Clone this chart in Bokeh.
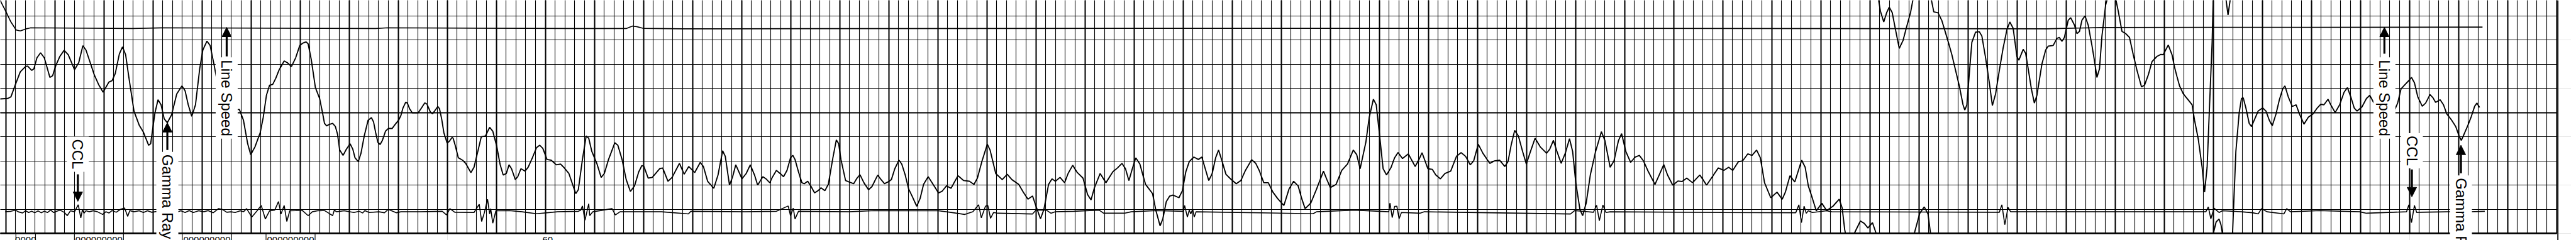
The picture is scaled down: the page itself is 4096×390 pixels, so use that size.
import numpy as np
from bokeh.plotting import figure
from bokeh.models import (ColumnDataSource, Grid, SingleIntervalTicker, FixedTicker,
                          Arrow, NormalHead, Range1d, Span)
from bokeh.core.properties import value
from bokeh.embed import file_html
from bokeh.resources import INLINE

# ---------------- data (depth in ft, track values: 10 units per chart division) ----------------
gr_main_a = [
    (4.40, 55.6), (5.21, 55.8), (5.53, 56.5), (5.99, 61.6), (6.48, 66.8), (7.02, 69.0), (7.23, 69.2),
    (7.65, 67.4), (7.87, 68.1), (8.18, 72.6), (8.55, 74.7), (8.93, 72.6), (9.50, 64.5), (9.78, 65.2),
    (10.10, 69.4), (10.52, 73.2), (10.95, 75.7), (11.37, 73.9), (12.01, 67.7), (12.44, 70.6),
    (12.86, 77.6), (13.18, 75.8), (13.61, 70.6), (14.03, 65.5), (14.46, 61.6), (14.92, 58.4),
    (15.52, 62.6), (15.84, 63.2), (16.16, 66.1), (16.58, 74.2), (16.90, 77.1), (17.22, 73.9),
    (17.54, 64.8), (18.07, 50.6), (18.60, 44.8), (19.03, 41.9), (19.56, 36.5), (19.77, 37.1),
    (20.20, 49.7), (20.52, 55.3), (20.83, 53.2), (21.15, 47.4), (21.47, 45.8), (21.90, 49.0),
    (22.43, 57.7), (22.96, 61.0), (23.28, 59.0), (23.60, 53.2), (23.96, 48.4), (24.34, 53.2),
    (24.77, 68.1), (25.09, 75.8), (25.51, 79.5), (25.83, 77.7), (26.25, 69.4), (26.68, 60.0),
    (28.38, 51.0), (28.81, 51.3), (29.23, 46.8), (29.66, 37.1), (29.97, 32.6), (30.40, 35.8),
    (30.93, 41.6), (31.25, 48.1), (31.57, 57.1), (31.89, 61.3), (32.21, 61.6), (32.53, 64.2),
    (32.84, 67.4), (33.38, 71.3), (33.70, 70.6), (34.12, 69.0), (34.55, 72.6), (34.97, 77.7),
    (35.29, 78.7), (35.61, 79.2), (35.82, 78.4), (36.14, 71.9), (36.56, 60.3), (36.99, 55.8),
    (37.27, 50.3), (37.49, 45.5), (37.71, 44.5), (37.93, 45.0), (38.32, 45.5), (38.60, 44.2),
    (38.82, 41.0), (39.04, 34.5), (39.38, 32.3), (39.71, 34.8), (40.10, 37.1), (40.38, 34.8),
    (40.60, 31.3), (40.93, 29.7), (41.21, 33.2), (41.54, 40.3), (41.93, 46.8), (42.27, 47.9),
    (42.49, 46.1), (42.71, 41.6), (42.93, 37.7), (43.16, 36.8), (43.38, 38.4), (43.71, 42.3),
    (43.99, 43.4), (44.38, 43.4), (44.71, 45.2), (45.04, 46.8), (45.27, 48.7), (45.49, 51.9),
    (45.77, 54.3), (45.93, 53.9), (46.16, 51.6), (46.43, 49.9), (47.04, 49.9), (47.38, 51.9),
    (47.71, 54.0), (47.93, 53.5), (48.27, 50.3), (48.49, 49.5), (48.71, 50.6), (49.04, 52.5),
    (49.21, 51.6), (49.43, 47.4), (49.66, 41.6), (49.99, 37.4), (50.21, 38.1), (50.49, 39.7),
    (50.60, 39.4), (50.81, 36.5), (51.13, 31.3), (51.56, 30.3), (51.88, 29.0), (52.41, 25.2),
    (52.73, 27.4), (53.15, 34.5), (53.47, 40.0), (53.90, 40.3), (54.32, 43.9), (54.64, 42.3),
    (55.06, 35.8), (55.38, 28.7), (55.70, 24.2), (56.02, 24.8), (56.30, 28.4), (56.55, 26.8),
    (56.94, 22.3), (57.19, 23.5), (57.51, 26.8), (57.93, 25.8), (58.25, 27.4), (58.68, 31.3),
    (59.10, 35.5), (59.42, 36.5), (59.74, 35.2), (60.17, 30.6), (60.59, 30.3), (61.12, 28.4),
    (61.55, 28.7), (61.87, 27.4), (62.40, 24.8), (62.72, 21.0), (63.10, 16.5), (63.36, 18.1),
    (63.78, 30.6), (64.16, 40.3), (64.42, 39.4), (64.74, 33.9), (65.27, 28.7), (65.69, 23.2),
    (66.01, 24.8), (66.44, 30.6), (67.08, 37.5), (67.39, 36.5), (67.82, 30.6), (68.24, 22.3),
    (68.67, 17.4), (69.09, 19.7), (69.52, 25.5), (69.84, 28.1), (70.05, 27.7), (70.48, 22.9),
    (70.90, 23.2), (71.65, 26.8), (71.96, 27.1), (72.50, 21.6), (72.92, 23.2), (73.67, 29.0),
    (74.15, 24.5), (74.62, 27.7), (75.22, 25.2), (75.79, 29.4), (76.11, 27.7), (76.54, 21.6),
    (77.17, 18.7), (77.60, 24.2), (78.07, 34.2), (78.34, 31.9), (78.77, 20.0), (79.09, 23.5),
    (79.41, 28.4), (80.04, 22.6), (80.47, 24.8), (80.89, 28.4), (81.32, 24.2), (81.64, 20.0),
    (82.17, 23.5), (82.49, 22.6), (82.87, 21.0), (83.13, 23.2), (83.55, 26.1), (83.93, 24.8),
    (84.28, 23.5), (84.63, 26.1), (84.99, 31.3), (85.22, 32.3), (85.45, 30.6), (85.80, 25.5),
    (86.15, 21.0), (86.39, 20.6), (86.74, 21.6), (87.09, 19.4), (87.44, 16.8), (87.79, 17.7),
    (88.10, 18.9), (88.49, 17.7), (88.84, 20.3), (89.31, 31.3), (89.66, 38.7), (89.90, 37.1),
    (90.13, 30.6), (90.60, 21.9), (90.95, 21.3), (91.42, 20.6), (91.77, 22.9), (92.07, 24.3),
    (92.47, 21.0), (92.94, 18.1), (93.29, 19.4), (93.87, 24.1), (94.22, 22.3), (94.57, 20.6),
    (94.92, 21.3), (95.27, 22.3), (95.62, 26.8), (96.05, 30.3), (96.33, 28.7), (96.68, 24.2),
    (97.03, 18.4), (97.38, 15.5), (97.85, 11.3), (98.20, 14.5), (98.55, 20.3), (99.02, 23.5),
    (99.37, 21.3), (100.07, 16.8), (100.42, 17.4), (100.89, 19.7), (101.35, 18.7), (101.70, 21.3),
    (102.06, 23.9), (102.64, 21.9), (103.22, 21.6), (103.69, 20.3), (104.04, 22.9), (104.51, 30.0),
    (105.05, 36.9), (105.33, 34.5), (105.91, 24.8), (106.57, 22.3), (107.08, 24.5), (107.55, 22.3),
    (108.25, 20.3), (108.72, 17.1), (109.19, 14.2), (109.66, 15.5), (110.01, 11.3), (110.47, 6.1),
    (110.82, 10.0), (111.29, 20.3), (111.64, 22.6), (111.99, 21.6), (112.46, 23.2), (112.93, 21.0),
    (113.28, 24.8), (113.75, 28.2), (114.22, 25.2), (114.80, 22.9), (115.27, 16.1), (115.62, 13.9),
    (115.97, 19.0), (116.55, 24.8), (117.14, 21.0), (117.84, 25.5), (118.31, 27.1), (118.77, 29.0),
    (119.13, 26.8), (119.48, 21.9), (119.83, 26.8), (120.18, 31.3), (120.60, 28.7), (120.95, 23.5),
    (121.18, 20.3), (121.54, 18.4), (121.89, 16.5), (122.24, 9.4), (122.66, 3.2), (122.94, 6.1),
    (123.29, 13.2), (123.64, 15.5), (123.99, 15.9), (124.58, 14.8), (124.93, 17.7), (125.28, 25.5),
    (125.63, 29.7), (126.10, 31.6), (126.56, 30.6), (126.91, 31.6), (127.26, 26.8), (127.62, 21.9),
    (127.97, 24.8), (128.32, 31.3), (128.62, 34.5), (128.97, 30.0), (129.37, 24.5), (129.84, 22.6),
    (130.42, 20.6), (130.89, 21.9), (131.36, 26.1), (131.99, 30.5), (132.41, 29.0), (132.76, 26.1),
    (133.23, 21.0), (133.69, 21.0), (134.16, 17.1), (134.63, 14.5), (135.28, 11.6), (135.80, 18.4),
    (136.27, 21.6), (136.73, 19.7), (137.09, 14.5), (137.44, 10.3), (138.02, 12.6), (138.61, 18.4),
    (139.31, 25.8), (139.66, 22.3), (140.01, 19.0), (140.59, 20.3), (141.18, 26.1), (141.76, 28.7),
    (142.35, 34.5), (142.70, 32.6), (143.05, 26.8), (143.63, 37.7), (143.98, 48.1), (144.40, 55.5),
    (144.69, 53.2), (145.04, 40.3), (145.39, 26.8), (145.74, 24.2), (146.21, 27.4), (146.56, 31.3),
    (146.91, 33.5), (147.37, 31.0), (147.96, 32.9), (148.66, 27.7), (149.01, 30.3), (149.36, 33.4),
    (149.95, 26.8), (150.41, 26.5), (150.76, 24.2), (151.23, 22.6), (151.70, 24.8), (152.28, 25.8),
    (152.87, 31.9), (153.34, 33.4), (153.80, 31.9), (154.27, 28.4), (154.62, 30.0), (155.09, 36.9),
    (155.56, 33.2), (156.26, 29.0), (156.73, 30.0), (157.27, 30.3), (157.80, 27.7), (158.12, 29.7),
    (158.44, 36.5), (158.80, 42.6), (159.18, 40.3), (159.61, 33.9), (159.99, 28.7), (160.35, 33.2),
    (160.88, 39.4), (161.41, 35.8), (162.05, 33.2), (162.37, 34.8), (162.75, 38.5), (163.11, 33.9),
    (163.54, 29.0), (163.96, 33.2), (164.39, 39.2), (164.71, 33.9), (165.03, 21.0), (165.45, 10.0),
    (165.73, 7.4), (166.09, 12.6), (166.51, 24.2), (167.05, 33.9), (167.64, 42.1), (168.00, 38.4),
    (168.53, 27.4), (168.92, 30.0), (169.38, 38.4), (169.70, 41.3), (170.13, 33.9), (170.62, 29.4),
    (171.08, 31.6), (171.51, 32.3), (171.93, 30.0), (172.36, 26.1), (173.10, 20.3), (173.53, 24.2),
    (174.00, 28.5), (174.38, 24.2), (174.91, 20.0), (175.44, 21.7), (175.87, 21.5), (176.34, 22.9),
    (176.93, 21.0), (177.36, 22.9), (177.67, 24.2), (177.99, 22.3), (178.36, 20.0), (178.95, 23.5),
    (179.55, 27.1), (180.12, 26.1), (180.61, 27.4), (181.03, 26.1), (181.61, 29.7), (182.03, 30.0),
    (182.56, 32.9), (182.99, 32.3), (183.46, 34.5), (183.84, 31.3), (184.27, 21.0), (184.90, 14.8),
    (185.54, 17.1), (186.07, 14.2), (186.39, 17.1), (186.86, 23.9), (187.35, 21.3), (188.05, 30.3),
    (188.41, 27.4), (188.73, 19.7), (189.15, 14.5), (189.54, 9.4), (190.11, 12.5), (190.60, 9.5),
    (191.24, 11.3), (191.88, 14.2), (192.18, 10.6), (192.44, 1.6), (192.52, 0.0),
]
gr_wrap_b = [(193.41, 0.0), (194.04, 5.2), (194.43, 4.2), (194.81, 2.3), (195.27, 4.5), (195.65, 0.0)]
gr_wrap_c = [(195.75, 100.0), (196.08, 91.9), (196.42, 87.4), (196.72, 91.3), (196.98, 93.5),
             (197.28, 91.3), (197.62, 84.2), (198.00, 76.5), (198.38, 79.7), (198.76, 85.5),
             (199.15, 91.3), (199.55, 100.0)]
gr_wrap_d = [(199.53, 0.0), (200.09, 8.4), (200.55, 11.0), (200.93, 8.1), (201.19, 0.0)]
gr_main_e = [
    (201.10, 100.0), (201.52, 91.6), (201.95, 91.2), (202.33, 88.1), (202.72, 82.9), (203.10, 77.7),
    (203.36, 73.9), (203.74, 67.4), (204.12, 61.0), (204.50, 53.2), (204.68, 51.0), (204.89, 53.2),
    (205.14, 66.1), (205.40, 79.0), (205.78, 83.2), (206.16, 83.4), (206.42, 81.6), (206.80, 72.6),
    (207.18, 62.3), (207.49, 52.9), (207.82, 57.7), (208.20, 67.4), (208.58, 76.5), (208.97, 84.2),
    (209.27, 87.4), (209.61, 84.8), (209.99, 73.2), (210.19, 71.6), (210.63, 76.1), (210.88, 74.5),
    (211.14, 68.1), (211.47, 59.7), (211.77, 53.9), (212.03, 57.1), (212.54, 70.0), (212.92, 75.8),
    (213.18, 77.4), (213.69, 77.7), (214.07, 80.6), (214.32, 81.0), (214.58, 79.4), (214.83, 81.0),
    (215.22, 88.1), (215.47, 89.2), (215.86, 86.1), (216.11, 82.6), (216.37, 83.5), (216.62, 88.1),
    (216.93, 89.9), (217.26, 86.1), (217.64, 77.7), (217.90, 71.3), (218.15, 64.5), (218.41, 68.1),
    (218.66, 81.6), (219.04, 94.5), (219.30, 98.4), (219.68, 101.0), (219.99, 98.4), (220.32, 91.9),
    (220.70, 83.5), (221.08, 82.6), (221.47, 81.0), (221.85, 73.9), (222.23, 67.4), (222.69, 60.6),
    (223.00, 61.3), (223.38, 65.5), (223.76, 71.0), (224.27, 73.2), (224.66, 74.0), (224.91, 73.9),
    (225.42, 77.9), (225.80, 73.9), (226.06, 68.7), (226.31, 64.8), (226.57, 61.0), (226.95, 57.7),
    (227.46, 55.2), (227.85, 53.2), (228.10, 46.8), (228.48, 39.0), (228.87, 27.4), (229.12, 17.1),
    (229.38, 27.4), (229.63, 53.2), (229.89, 79.0), (230.01, 98.4), (230.05, 100.0),
]
gr_wrap_f = [(230.01, 0.0), (230.30, 4.8), (230.60, 6.0), (230.80, 3.5), (230.94, 0.0)]
gr_wrap_g = [(231.20, 100.0), (231.51, 90.3), (231.85, 100.0)]
gr_main_h = [
    (231.97, 0.0), (232.31, 33.9), (232.65, 50.0), (232.88, 55.8), (233.06, 56.1), (233.33, 51.9),
    (233.67, 45.5), (233.90, 44.2), (234.24, 47.4), (234.58, 50.6), (235.04, 51.9), (235.38, 50.6),
    (235.72, 46.8), (236.02, 44.5), (236.40, 49.4), (236.74, 55.2), (237.08, 59.7), (237.31, 61.0),
    (237.65, 56.5), (238.06, 52.5), (238.45, 53.2), (238.79, 49.4), (239.25, 45.2), (239.70, 48.1),
    (240.16, 49.4), (240.61, 51.9), (240.95, 53.4), (241.29, 53.2), (241.70, 55.5), (241.98, 53.2),
    (242.43, 50.0), (242.89, 53.2), (243.34, 58.4), (243.68, 60.3), (244.02, 56.5), (244.37, 51.9),
    (244.66, 50.6), (245.16, 52.3), (245.62, 55.8), (245.96, 57.1), (246.30, 54.5), (246.53, 52.9),
    (248.35, 49.7), (248.80, 53.9), (249.14, 59.7), (249.49, 61.3), (249.94, 63.2), (250.21, 64.5),
    (250.51, 62.3), (250.85, 56.5), (251.31, 52.6), (251.65, 53.9), (252.10, 57.4), (252.40, 56.1),
    (252.67, 54.2), (253.13, 55.3), (253.47, 53.2), (253.81, 49.4), (254.26, 47.1), (254.72, 44.2),
    (255.06, 40.3), (255.29, 38.5), (255.63, 41.6), (255.97, 44.8), (256.31, 48.4), (256.65, 52.6),
    (256.88, 53.9), (257.15, 52.1),
]
gamma_ray_runs = [gr_main_a, gr_wrap_b, gr_wrap_c, gr_wrap_d, gr_main_e, gr_wrap_f, gr_wrap_g, gr_main_h]

ccl_points = [
    (4.95, 9.0), (5.53, 9.2), (5.99, 9.7), (6.27, 9.0), (6.70, 8.5), (7.02, 9.4), (7.33, 8.7),
    (7.65, 9.2), (7.97, 8.6), (8.29, 9.4), (8.61, 8.6), (8.93, 9.2), (9.25, 8.7), (9.57, 9.7),
    (9.89, 8.7), (10.20, 9.2), (10.52, 9.7), (10.95, 8.8), (11.27, 7.4), (11.59, 9.4), (12.01, 9.0),
    (12.39, 11.9), (12.65, 6.5), (12.82, 9.9), (12.97, 8.4), (13.18, 9.4), (13.50, 9.0), (13.92, 9.4),
    (14.35, 9.0), (14.88, 7.9), (15.20, 9.0), (15.52, 8.5), (15.84, 9.5), (16.26, 8.8), (16.69, 10.0),
    (17.11, 10.6), (17.43, 7.1), (17.64, 9.5), (18.07, 9.0), (18.60, 9.4), (19.03, 8.7), (19.45, 9.4),
    (19.88, 8.8), (20.52, 9.2), (22.32, 8.7), (22.85, 9.4), (23.28, 8.7), (23.70, 9.5), (24.13, 8.7),
    (24.66, 9.4), (25.19, 9.0), (25.62, 9.5), (26.15, 8.6), (26.68, 10.3), (27.10, 9.9), (27.53, 8.8),
    (27.96, 9.0), (28.38, 8.7), (28.91, 9.4), (29.23, 9.0), (29.55, 10.3), (30.08, 6.8), (30.62, 9.4),
    (31.04, 11.6), (31.46, 6.0), (31.89, 9.4), (32.42, 9.7), (32.80, 13.2), (33.06, 8.1), (33.38, 11.6),
    (33.65, 5.0), (33.95, 9.4), (34.55, 9.5), (35.18, 9.7), (35.82, 7.4), (36.25, 9.0), (36.78, 9.4),
    (37.27, 9.5), (37.49, 9.5), (37.93, 8.4), (38.32, 7.4), (38.49, 9.7), (38.71, 9.0), (39.49, 9.4),
    (40.49, 8.7), (41.04, 9.2), (41.38, 8.5), (41.60, 9.5), (42.04, 8.7), (43.04, 9.0), (43.60, 8.6),
    (43.99, 10.0), (44.82, 8.6), (45.27, 9.0), (47.27, 9.0), (49.49, 9.2), (49.93, 7.7), (50.27, 10.3),
    (50.77, 8.8), (52.73, 8.7), (53.26, 12.1), (53.51, 5.0), (53.79, 8.7), (54.11, 14.2), (54.32, 8.1),
    (54.43, 10.3), (54.64, 4.3), (54.96, 9.4), (56.34, 9.5), (57.62, 9.0), (59.10, 8.2), (61.23, 9.0),
    (63.36, 9.2), (63.61, 9.7), (63.78, 11.4), (64.04, 5.5), (64.42, 12.3), (64.52, 7.4), (64.84, 9.0),
    (66.80, 10.3), (67.14, 7.7), (67.61, 9.0), (71.86, 9.0), (74.58, 8.1), (74.83, 9.2), (80.36, 9.0),
    (83.55, 9.2), (84.75, 11.4), (84.99, 7.4), (85.27, 10.5), (85.45, 6.0), (85.80, 9.2), (90.95, 9.0),
    (93.52, 9.5), (100.07, 9.4), (101.24, 8.8), (102.76, 7.9), (103.58, 9.0), (104.16, 11.9),
    (104.44, 6.5), (104.86, 11.3), (105.10, 11.6), (105.38, 6.3), (105.68, 8.7), (106.15, 8.4),
    (109.66, 8.1), (110.01, 9.7), (111.06, 9.7), (111.53, 8.4), (111.99, 9.0), (113.86, 9.2),
    (116.44, 9.7), (116.90, 8.4), (119.01, 8.4), (119.71, 9.0), (122.24, 9.5), (125.04, 9.2),
    (125.16, 11.6), (125.44, 6.8), (125.63, 9.7), (125.79, 8.1), (125.98, 10.1), (126.14, 6.8),
    (126.33, 9.0), (138.25, 8.2), (138.61, 9.0), (142.46, 9.7), (145.97, 9.0), (146.09, 12.6),
    (146.32, 6.6), (146.56, 11.2), (146.79, 11.3), (147.02, 6.1), (147.26, 8.7), (149.13, 8.4),
    (149.60, 9.0), (164.49, 8.1), (164.92, 9.5), (166.83, 8.8), (167.15, 11.7), (167.43, 5.3),
    (167.79, 11.8), (168.11, 8.7), (168.53, 9.0), (180.01, 8.7), (187.45, 8.6), (187.77, 11.9),
    (188.03, 4.5), (188.30, 11.3), (188.52, 8.4), (188.73, 9.4), (189.15, 8.7), (190.60, 9.4),
    (191.11, 9.0), (208.20, 8.8), (208.46, 11.9), (208.76, 3.7), (209.09, 10.8), (209.35, 9.0),
    (229.25, 9.0), (229.50, 11.0), (229.76, 6.1), (230.09, 10.5), (230.40, 9.4), (230.60, 8.7),
    (230.94, 9.4), (232.88, 9.0), (234.01, 8.6), (234.58, 8.1), (234.92, 10.3), (235.49, 9.0),
    (237.20, 8.1), (237.49, 10.3), (237.88, 9.0), (240.84, 9.5), (244.93, 9.0), (245.62, 8.4),
    (249.71, 9.0), (249.94, 11.9), (250.21, 4.5), (250.51, 11.6), (250.74, 8.7), (251.08, 8.8),
    (253.92, 9.0), (256.20, 9.0), (257.68, 9.2),
]

line_speed_points = [
    (4.25, 98.4), (4.57, 95.2), (4.99, 91.9), (5.53, 87.4), (6.06, 84.1), (6.48, 83.7), (7.02, 84.5),
    (7.55, 85.0), (17.86, 84.7), (21.15, 85.0), (42.71, 84.7), (43.93, 85.0), (62.93, 84.7),
    (68.24, 84.7), (68.88, 85.7), (69.31, 85.5), (69.95, 84.8), (73.98, 84.6), (78.87, 84.6),
    (120.0, 84.8), (160.0, 84.8), (213.05, 84.6), (218.66, 85.1), (230.0, 85.2), (239.7, 85.2),
    (257.45, 85.3),
]

label_text = ["CCL", "Gamma Ray", "Line Speed", "Line Speed", "CCL", "Gamma Ray"]
label_depth = [12.35, 21.47, 27.52, 247.45, 250.25, 255.25]
label_mid = [32.8, 15.2, 56.0, 56.0, 34.2, 5.5]
arrow_from = [24.5, 34.5, 73.2, 74.3, 26.5, 24.9]
arrow_to = [13.3, 45.8, 85.2, 85.2, 15.2, 36.5]

header_edges = [6.03, 8.03, 12.0, 17.0, 23.0, 28.03, 31.53, 36.53]
header_depth = [7.03, 14.5, 25.5, 34.03, 60.23]
header_text = ["0000", "000000000", "000000000", "000000000", "60"]

# ---------------- layout constants ----------------
SCALE = 0.52
MARGIN = 8
W, H = 4088, 382
REF_PX_PER_FT = 30.0
REF_PX_PER_UNIT = 7.41
REF_X_OF_DEPTH4 = 2.0
REF_Y_OF_ZERO = 729.4
GRID_END = 265.0
BORDER = 265.13

ref_left = MARGIN / SCALE
ref_top = MARGIN / SCALE
x0 = 4 + (ref_left - REF_X_OF_DEPTH4) / REF_PX_PER_FT
x1 = x0 + W / (SCALE * REF_PX_PER_FT)
y1 = (REF_Y_OF_ZERO - ref_top) / REF_PX_PER_UNIT
y0 = y1 - H / (SCALE * REF_PX_PER_UNIT)

p = figure(width=W, height=H, output_backend="svg", toolbar_location=None,
           x_range=Range1d(x0, x1), y_range=Range1d(y0, y1),
           x_axis_location=None, y_axis_location=None, min_border=0)
p.outline_line_color = None
p.background_fill_color = "white"
p.border_fill_color = "white"


def add_grid(dim, ticker, width, color, bounds, cross):
    g = Grid(dimension=dim, ticker=ticker, bounds=bounds, cross_bounds=cross,
             grid_line_color=color, grid_line_width=width)
    p.add_layout(g)


add_grid(0, SingleIntervalTicker(interval=1, num_minor_ticks=0), 1.1, "black", (0, GRID_END), (0, 110))
add_grid(0, SingleIntervalTicker(interval=5, num_minor_ticks=0), 2.0, "black", (0, GRID_END), (0, 110))
add_grid(1, SingleIntervalTicker(interval=10, num_minor_ticks=0), 1.1, "black", (0, 110), (0, GRID_END))
add_grid(1, SingleIntervalTicker(interval=50, num_minor_ticks=0), 2.0, "black", (0, 110), (0, GRID_END))
add_grid(1, FixedTicker(ticks=[0]), 2.6, "black", (-1, 1), (0, GRID_END))

# header strip below the track
p.segment(x0=header_edges, y0=[0] * len(header_edges), x1=header_edges, y1=[-10] * len(header_edges),
          line_color="black", line_width=1.1)
p.text(x=header_depth, y=[-1.4] * len(header_depth), text=header_text,
       text_font=value("Liberation Sans"), text_font_size="15px",
       text_align="center", text_baseline="top", text_color="black")

# curves
p.multi_line(xs=[[d for d, _ in run] for run in gamma_ray_runs],
             ys=[[v for _, v in run] for run in gamma_ray_runs],
             line_color="black", line_width=1.9)
p.line([d for d, _ in ccl_points], [v for _, v in ccl_points], line_color="black", line_width=1.6)
p.line([d for d, _ in line_speed_points], [v for _, v in line_speed_points],
       line_color="black", line_width=1.7)

# labels with white backing boxes
lab = ColumnDataSource(dict(x=label_depth, y=label_mid, text=label_text,
                            y0=arrow_from, y1=arrow_to))
p.text(x="x", y="y", text="text", source=lab, angle=-np.pi / 2,
       text_font=value("Liberation Sans"), text_font_size="24px",
       text_align="center", text_baseline="middle", text_color="black",
       background_fill_color="white", padding=4)
p.add_layout(Arrow(end=NormalHead(size=15, fill_color="black", line_color="black", line_width=1),
                   x_start="x", y_start="y0", x_end="x", y_end="y1", source=lab,
                   line_color="black", line_width=3.2))

p.add_layout(Span(location=BORDER, dimension="height", line_color="black", line_width=1.8))

open("out.html", "w").write(file_html(p, INLINE))
